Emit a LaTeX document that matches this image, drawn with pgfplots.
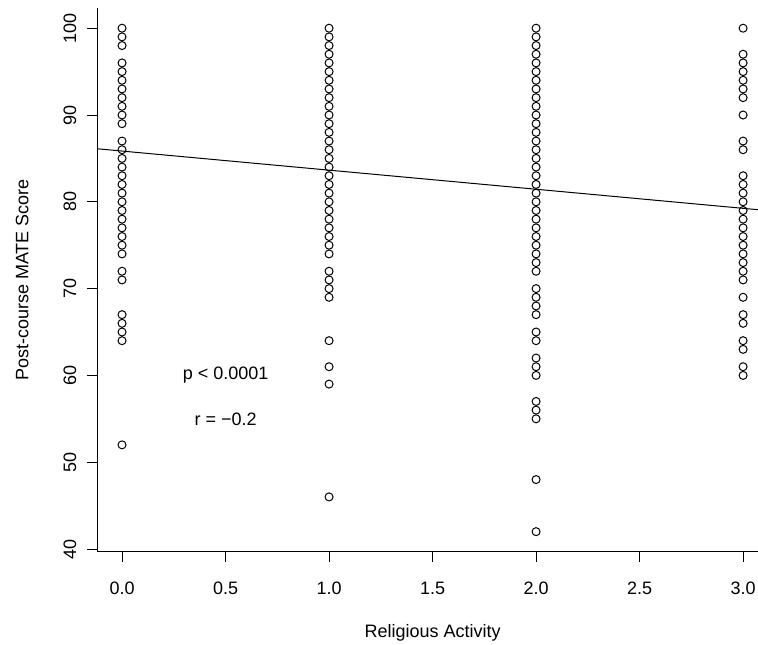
\documentclass[border=0pt]{standalone}
\usepackage{fontspec}
\setmainfont{Liberation Sans}
\usepackage{pgfplots}
\pgfplotsset{compat=1.18}
\begin{document}
\fontsize{13.5pt}{16pt}\selectfont
\begin{tikzpicture}
\path[use as bounding box] (-72.9pt,-69.9pt) rectangle (495.6pt,413.85pt);
\begin{axis}[
  at={(0,0)}, anchor=south west,
  scale only axis, width=495.6pt, height=407.8pt,
  xmin=-0.12, xmax=3.072, ymin=39.68, ymax=102.32,
  axis x line*=bottom, axis y line*=left,
  axis line style={-, line width=0.75pt},
  tick align=outside, major tick length=7.5pt,
  tick style={line width=0.75pt, black},
  xtick={0,0.5,1,1.5,2,2.5,3},
  xticklabels={0.0,0.5,1.0,1.5,2.0,2.5,3.0},
  ytick={40,50,60,70,80,90,100},
  yticklabel style={rotate=90, anchor=south, inner sep=0pt},
  yticklabel shift=7.9pt,
  xticklabel style={inner sep=0pt, anchor=north},
  xticklabel shift=14.8pt,
  /pgf/number format/assume math mode=true,
  xlabel={Religious Activity},
  ylabel={Post-course MATE Score},
  xlabel style={at={(axis description cs:0.5075,0)}, anchor=center, yshift=-61pt},
  ylabel style={at={(axis description cs:-0.1135,0.5)}, anchor=center},
  clip=true,
]
\addplot[only marks, mark=o, mark size=3pt, mark options={line width=0.75pt, black}] table {
x y
0 100
0 99
0 98
0 96
0 95
0 94
0 93
0 92
0 91
0 90
0 89
0 87
0 86
0 85
0 84
0 83
0 82
0 81
0 80
0 79
0 78
0 77
0 76
0 75
0 74
0 72
0 71
0 67
0 66
0 65
0 64
0 52
1 100
1 99
1 98
1 97
1 96
1 95
1 94
1 93
1 92
1 91
1 90
1 89
1 88
1 87
1 86
1 85
1 84
1 83
1 82
1 81
1 80
1 79
1 78
1 77
1 76
1 75
1 74
1 72
1 71
1 70
1 69
1 64
1 61
1 59
1 46
2 100
2 99
2 98
2 97
2 96
2 95
2 94
2 93
2 92
2 91
2 90
2 89
2 88
2 87
2 86
2 85
2 84
2 83
2 82
2 81
2 80
2 79
2 78
2 77
2 76
2 75
2 74
2 73
2 72
2 70
2 69
2 68
2 67
2 65
2 64
2 62
2 61
2 60
2 57
2 56
2 55
2 48
2 42
3 100
3 97
3 96
3 95
3 94
3 93
3 92
3 90
3 87
3 86
3 83
3 82
3 81
3 80
3 79
3 78
3 77
3 76
3 75
3 74
3 73
3 72
3 71
3 69
3 67
3 66
3 64
3 63
3 61
3 60
};
\addplot[black, line width=0.75pt] coordinates {(-0.12,86.11) (3.072,79.09)};
\node at (axis cs:0.5,60) {p < 0.0001};
\node at (axis cs:0.5,55) {r = −0.2};
\end{axis}
\end{tikzpicture}
\end{document}
